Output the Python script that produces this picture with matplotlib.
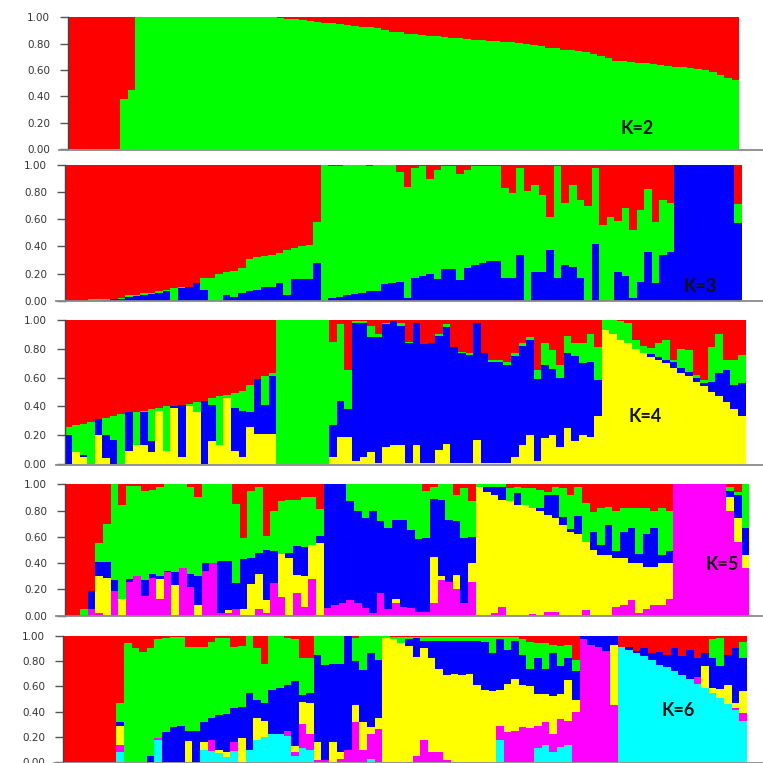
import matplotlib
matplotlib.use('Agg')
import matplotlib.pyplot as plt
from matplotlib.lines import Line2D
import numpy as np

W = H = 763  # canvas size in pixels (dpi 100)

RED, GREEN, BLUE = '#ff0000', '#00ff00', '#0000ff'
YELLOW, MAGENTA, CYAN = '#ffff00', '#ff00ff', '#00ffff'

# membership coefficients in %, one value per individual; red (top) is the remainder

# K=2
k2_green = [0, 0, 0, 0, 0, 0, 0, 38, 45, 100,
            100, 100, 100, 100, 100, 100, 100, 100, 100, 100,
            100, 100, 100, 100, 100, 100, 100, 100, 99.5, 99,
            98.5, 98, 97.5, 96.5, 96, 95.5, 95, 94, 93.5, 93,
            92.5, 92, 90.5, 89, 88.5, 87.5, 87, 86.5, 86, 85.5,
            85, 84.5, 84, 83.5, 83, 82.5, 82, 82, 81.5, 81,
            80.5, 80, 79, 78, 77, 76.5, 75.5, 75, 74.5, 73.5,
            72.5, 70.5, 69, 67, 66.5, 66, 65.5, 65, 64.5, 64,
            63, 62.5, 62, 61.5, 61, 60, 58.5, 56.5, 54, 52.5]

# K=3
k3_blue = [0, 0, 0, 0, 0, 0.5, 1, 1, 3, 3.5,
           4, 5, 6, 7, 0, 9, 10, 13, 8, 0,
           0, 4, 3, 6, 7, 8, 10, 10, 13, 4,
           16, 16, 16, 28, 0, 2, 3, 4, 5, 6,
           7, 7, 12, 13, 14, 2, 16.5, 18, 20, 16,
           23, 23, 15, 24, 26, 27.5, 29, 29, 16.5, 16.5,
           34, 0, 21, 21, 37, 16.5, 26, 25, 16.5, 0,
           41.5, 0, 0, 21, 18, 2, 14, 36, 13, 34,
           36, 100, 100, 100, 100, 100, 100, 100, 100, 57]
k3_green = [0, 0, 0, 1, 1, 0.5, 0, 1, 1, 1,
            2, 1, 1, 1, 9, 1, 0, 0, 9, 16.5,
            20, 17, 19, 18, 24, 24, 23, 24, 22, 33,
            23, 24, 25, 30, 100, 97.5, 96, 96, 95, 94,
            92.5, 93, 88, 87, 81, 82, 81.5, 81, 70, 80,
            76, 76, 78, 72, 73, 71.5, 70, 70, 66.5, 62.5,
            64, 81, 64, 57, 25, 82.5, 46, 60, 57.5, 70,
            56.5, 56, 62, 38, 50, 50, 53, 46, 45, 40,
            36, 0, 0, 0, 0, 0, 0, 0, 0, 14]

# K=4
k4_yellow = [0, 8, 5, 0, 20, 4, 0, 0, 9, 13,
             13, 8, 37, 9, 39, 5, 40, 36, 0, 16,
             13, 46, 9, 5, 26, 21, 21, 21, 0, 0,
             0, 0, 0, 0, 0, 5, 19, 19, 2, 5,
             8, 1, 12, 13, 13, 1, 13, 1, 1, 10,
             14, 1, 1, 1, 17, 1, 1, 1, 1, 5,
             13, 20, 2, 18, 20, 12, 25, 16, 20, 19,
             33, 93, 90, 86, 84, 80, 77, 74.5, 72, 70,
             67, 63, 61, 57, 54, 50, 47, 43, 38, 33]
k4_blue = [20, 0, 1, 0, 11, 16, 17, 0, 27, 0,
           23, 8, 0, 0, 1, 36, 0, 0, 44, 25,
           0, 0, 30, 32, 10, 38, 20, 40, 0, 0,
           0, 0, 0, 0, 0, 22, 25, 19, 96, 93,
           80, 87, 85, 86, 83, 83, 85, 82, 83, 79,
           81, 80, 76, 75, 81, 76, 70, 70, 68, 70,
           69, 66, 57, 51, 46, 48, 52, 59, 50, 52,
           25, 0, 0, 0, 0, 0, 0, 2, 2, 2,
           4, 4, 3, 3, 2, 7, 16, 22, 17, 23]
k4_green = [6, 19, 22, 29, 0, 12, 16, 35, 0, 23,
            1, 22, 2, 31, 0, 0, 2, 7, 0, 5,
            34, 2, 10, 14, 19, 0, 20, 2, 100, 100,
            100, 100, 100, 100, 100, 58, 53, 27, 1, 1,
            8, 2, 1, 0, 2, 1, 0, 0, 0, 1,
            2, 0, 1, 1, 0, 0, 1, 1, 2, 2,
            2, 2, 6, 15, 13, 9, 12, 9, 14, 19,
            23, 7, 10, 13, 14, 6, 5, 4, 10, 14,
            1, 13, 15, 2, 2, 24, 27, 7, 17, 20]

# K=5
k5_magenta = [0, 0, 0, 5, 2, 0, 19, 0, 26, 30,
              15, 29, 13, 33, 0, 36, 22, 0, 34, 40,
              2, 2, 5, 0, 0, 5, 2, 25, 14, 0,
              17, 7, 28, 0, 6, 8, 10, 12, 10, 6,
              2, 17, 5, 10, 7, 6, 3, 3, 10, 27,
              26, 20, 10, 26, 0, 0, 2, 7, 0, 0,
              0, 1, 0, 3, 3, 0, 0, 0, 4, 0,
              0, 0, 7, 8, 12, 2, 5, 8, 8, 13,
              100, 100, 100, 100, 100, 100, 100, 80, 56, 36]
k5_yellow = [0, 0, 0, 0, 28, 29, 0, 13, 0, 0,
             0, 0, 15, 0, 23, 0, 0, 8, 0, 0,
             0, 2, 0, 5, 24, 27, 10, 0, 33, 44,
             14, 23, 26, 55, 0, 0, 0, 0, 0, 0,
             0, 0, 0, 3, 0, 0, 0, 0, 35, 3,
             0, 11, 0, 14, 98, 94, 90, 81, 87, 84,
             84, 81, 80, 74, 71, 69, 64, 62, 52, 50,
             46, 46, 37, 36, 28, 38, 32, 29, 32, 27,
             0, 0, 0, 0, 0, 0, 0, 10, 18, 10]
k5_blue = [0, 0, 0, 14, 11, 12, 8, 0, 2, 0,
           12, 3, 2, 1, 10, 0, 10, 22, 6, 0,
           40, 38, 20, 38, 20, 16, 38, 24, 0, 4,
           22, 22, 0, 6, 94, 92, 90, 75, 70, 68,
           78, 55, 62, 60, 66, 59, 55, 56, 44, 58,
           47, 41, 49, 20, 0, 4, 6, 10, 0, 9,
           0, 0, 2, 15, 18, 6, 2, 14, 0, 14,
           8, 23, 5, 20, 27, 7, 25, 30, 6, 9,
           0, 0, 0, 0, 0, 0, 0, 5, 18, 21]
k5_green = [0, 0, 5, 0, 14, 29, 73, 71, 71, 69,
            68, 64, 68, 66, 67, 64, 66, 60, 60, 60,
            58, 58, 60, 16, 51, 50, 11, 31, 40, 40,
            35, 38, 36, 20, 0, 0, 0, 13, 20, 26,
            20, 28, 33, 27, 27, 35, 42, 36, 9, 12,
            27, 20, 38, 27, 2, 2, 2, 2, 10, 5,
            13, 15, 14, 2, 6, 22, 26, 22, 30, 15,
            28, 14, 31, 18, 15, 35, 20, 13, 36, 31,
            0, 0, 0, 0, 0, 0, 0, 3, 2, 33]

# K=6
k6_cyan = [0, 0, 0, 0, 0, 0, 0, 8, 0, 0,
           0, 0, 18, 0, 0, 0, 0, 0, 10, 9,
           7, 4, 9, 0, 10, 18, 20, 22, 22, 21,
           5, 11, 10, 0, 0, 0, 0, 0, 0, 0,
           3, 0, 0, 0, 0, 0, 0, 0, 0, 0,
           0, 0, 0, 0, 0, 0, 0, 18, 0, 0,
           0, 0, 11, 14, 8, 12, 14, 0, 0, 0,
           0, 0, 0, 91, 89, 86, 84, 81, 77, 75,
           72, 69, 66, 62, 59, 55, 51, 46, 41, 33]
k6_magenta = [0, 0, 0, 0, 0, 0, 0, 6, 0, 0,
              0, 0, 1, 0, 0, 0, 0, 0, 0, 9,
              0, 0, 7, 0, 0, 0, 0, 0, 0, 4,
              3, 19, 12, 2, 2, 0, 3, 10, 32, 10,
              19, 26, 0, 0, 0, 0, 5, 18, 8, 8,
              2, 0, 0, 0, 0, 0, 0, 11, 24, 25,
              28, 27, 18, 18, 14, 22, 19, 40, 97, 93,
              91, 88, 45, 0, 0, 0, 0, 0, 0, 0,
              0, 0, 0, 5, 0, 0, 0, 0, 2, 6]
k6_yellow = [0, 0, 0, 0, 0, 0, 0, 15, 0, 0,
             0, 0, 0, 0, 0, 0, 17, 0, 6, 0,
             3, 4, 0, 19, 0, 17, 13, 0, 0, 0,
             5, 18, 25, 14, 0, 16, 5, 0, 13, 22,
             6, 9, 98, 97, 94, 92, 78, 72, 74, 66,
             67, 70, 69, 70, 61, 57, 56, 28, 38, 41,
             33, 33, 25, 22, 30, 20, 32, 9, 0, 0,
             0, 0, 48, 0, 0, 0, 0, 0, 0, 0,
             0, 0, 0, 0, 17, 4, 7, 15, 4, 17]
k6_blue = [0, 0, 0, 0, 0, 0, 0, 3, 0, 0,
           0, 5, 0, 24, 28, 29, 8, 25, 16, 17,
           27, 30, 27, 25, 45, 14, 14, 35, 37, 36,
           51, 5, 8, 69, 75, 62, 70, 90, 35, 41,
           58, 46, 0, 0, 0, 5, 15, 6, 14, 22,
           27, 26, 27, 26, 35, 38, 30, 40, 27, 30,
           24, 14, 28, 20, 34, 22, 17, 23, 3, 7,
           9, 12, 7, 0, 2, 2, 6, 5, 10, 10,
           18, 15, 23, 15, 10, 23, 18, 24, 43, 26]
k6_green = [0, 0, 0, 0, 0, 0, 0, 15, 94, 90,
            87, 85, 78, 74, 71, 70, 66, 66, 59, 60,
            61, 60, 48, 48, 45, 41, 31, 43, 41, 37,
            33, 29, 27, 15, 23, 22, 22, 0, 18, 27,
            14, 19, 2, 2, 5, 2, 1, 3, 3, 3,
            3, 3, 3, 3, 3, 4, 13, 2, 10, 3,
            12, 21, 12, 20, 7, 16, 11, 9, 0, 0,
            0, 0, 0, 0, 0, 0, 0, 0, 0, 0,
            0, 0, 0, 0, 0, 15, 22, 0, 0, 13]

yticks = [0.0, 0.2, 0.4, 0.6, 0.8, 1.0]


def draw_panel(fig, box, layers, label, label_xy):
    # box = (left, top, right, bottom) in pixels from the top-left corner
    x0, y0, x1, y1 = box
    ax = fig.add_axes([x0 / W, 1 - y1 / H, (x1 - x0) / W, (y1 - y0) / H])
    n = len(layers[0][0])
    idx = np.arange(n)
    bottom = np.zeros(n)
    for vals, color in layers:
        h = np.asarray(vals, dtype=float) / 100
        ax.bar(idx, h, width=1.0, bottom=bottom, color=color, align='edge',
               linewidth=0, antialiased=False)
        bottom += h
    rest = np.clip(1 - bottom, 0, None)
    ax.bar(idx, rest, width=1.0, bottom=bottom, color=RED, align='edge',
           linewidth=0, antialiased=False)

    ax.set_xlim(0, n)
    ax.set_ylim(0, 1)
    ax.set_xticks([])
    ax.set_yticks(yticks)
    ax.set_yticklabels([f'{t:.2f}' for t in yticks])
    ax.tick_params(axis='y', length=6, width=1, color='#555555', pad=7,
                   labelsize=7.5, labelcolor='#333333')
    for side in ['top', 'right', 'bottom']:
        ax.spines[side].set_visible(False)
    ax.spines['left'].set_color('#444444')
    ax.spines['left'].set_linewidth(1)

    # grey baseline running to the right edge
    yb = 1 - (y1 + 0.5) / H
    fig.add_artist(Line2D([(x0 - 9) / W, 1.0], [yb, yb], color='#8a8a8a', lw=1.3))

    fig.text(label_xy[0] / W, 1 - label_xy[1] / H, label, ha='center', va='center',
             fontsize=13, fontweight='bold', family='Lato', color='#111111')
    return ax


fig = plt.figure(figsize=(W / 100, H / 100), dpi=100)
fig.patch.set_facecolor('white')

draw_panel(fig, (68, 17.3, 739, 149),
           [(k2_green, GREEN)], 'K=2', (637, 129))
draw_panel(fig, (65, 165, 742, 300.7),
           [(k3_blue, BLUE), (k3_green, GREEN)], 'K=3', (700, 287))
draw_panel(fig, (64.5, 320, 745.5, 464),
           [(k4_yellow, YELLOW), (k4_blue, BLUE), (k4_green, GREEN)], 'K=4', (645, 416))
draw_panel(fig, (65, 484.3, 749.3, 615.7),
           [(k5_magenta, MAGENTA), (k5_yellow, YELLOW), (k5_blue, BLUE), (k5_green, GREEN)],
           'K=5', (722, 565))
draw_panel(fig, (63.3, 635.7, 746.7, 762.3),
           [(k6_cyan, CYAN), (k6_magenta, MAGENTA), (k6_yellow, YELLOW),
            (k6_blue, BLUE), (k6_green, GREEN)], 'K=6', (678, 711))

fig.savefig('out.png', dpi=100, facecolor='white')
